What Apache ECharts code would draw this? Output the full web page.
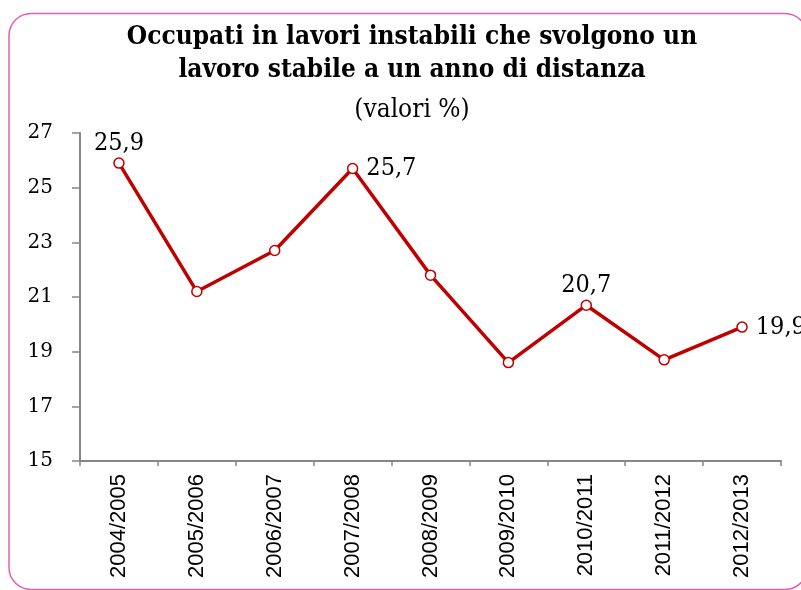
<!DOCTYPE html>
<html>
<head>
<meta charset="utf-8">
<script src="https://cdn.jsdelivr.net/npm/echarts@6/dist/echarts.min.js"></script>
<style>
html, body { margin: 0; padding: 0; background: #fff; }
#chart { width: 801px; height: 590px; }
</style>
</head>
<body>
<div id="chart"></div>
<script>
// dati
var periodi = ['2004/2005', '2005/2006', '2006/2007', '2007/2008', '2008/2009',
               '2009/2010', '2010/2011', '2011/2012', '2012/2013'];
var valori = [25.9, 21.2, 22.7, 25.7, 21.8, 18.6, 20.7, 18.7, 19.9];
var yTicks = [15, 17, 19, 21, 23, 25, 27];

// solo alcuni punti hanno l'etichetta
var etichette = { 0: 'top', 3: 'right', 6: 'top', 8: 'right' };

var rosso = '#c00000';
var grigio = '#868686';
var serif = '"DejaVu Serif Condensed", "DejaVu Serif", serif';

var chart = echarts.init(document.getElementById('chart'));

var punti = valori.map(function (v, i) {
    var item = { value: v };
    if (etichette[i]) {
        item.label = {
            show: true,
            position: etichette[i],
            distance: etichette[i] === 'right' ? 8 : 1
        };
    }
    return item;
});

var option = {
    animation: false,
    title: {
        text: 'Occupati in lavori instabili che svolgono un\nlavoro stabile a un anno di distanza',
        subtext: '(valori %)',
        left: 407,
        textAlign: 'center',
        top: 16,
        itemGap: 8,
        textStyle: {
            fontFamily: serif,
            fontWeight: 'bold',
            fontSize: 26,
            lineHeight: 33,
            color: '#000'
        },
        subtextStyle: {
            fontFamily: serif,
            fontSize: 26,
            lineHeight: 30,
            color: '#000'
        }
    },
    graphic: [{
        type: 'rect',
        z: -1,
        shape: { x: 9, y: 13.5, width: 798, height: 576, r: 22 },
        style: { fill: 'none', stroke: '#e35db5', lineWidth: 1.5 }
    }],
    grid: { left: 80, right: 20, top: 133, bottom: 129 },
    xAxis: {
        type: 'category',
        data: periodi,
        boundaryGap: true,
        axisLine: { lineStyle: { color: grigio, width: 2 } },
        axisTick: { show: true, length: 5, lineStyle: { color: grigio, width: 1.5 } },
        axisLabel: {
            rotate: 90,
            margin: 13,
            fontFamily: 'Liberation Sans',
            fontSize: 22,
            color: '#000'
        }
    },
    yAxis: {
        type: 'value',
        min: yTicks[0],
        max: yTicks[yTicks.length - 1],
        interval: 2,
        axisLine: { show: true, lineStyle: { color: grigio, width: 2 } },
        axisTick: { show: true, length: 8, lineStyle: { color: grigio, width: 1.5 } },
        splitLine: { show: false },
        axisLabel: {
            margin: 27,
            fontFamily: 'DejaVu Serif',
            fontSize: 20,
            color: '#000'
        }
    },
    series: [{
        type: 'line',
        data: punti,
        symbol: 'circle',
        symbolSize: 10,
        lineStyle: { color: rosso, width: 3.5 },
        itemStyle: { color: '#fff', borderColor: rosso, borderWidth: 1.5 },
        label: {
            show: false,
            fontFamily: serif,
            fontSize: 25,
            color: '#000',
            formatter: function (p) {
                return String(p.value).replace('.', ',');
            }
        },
        emphasis: { disabled: true }
    }]
};

chart.setOption(option);
</script>
</body>
</html>
